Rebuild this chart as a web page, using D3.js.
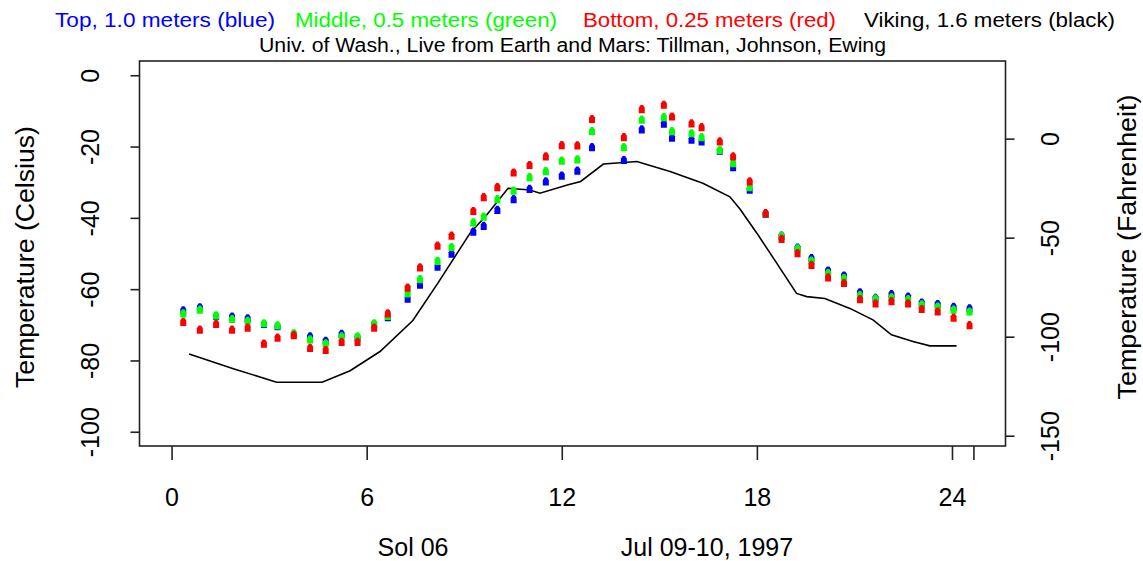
<!DOCTYPE html>
<html>
<head>
<meta charset="utf-8">
<script src="https://cdn.jsdelivr.net/npm/d3@7"></script>
<style>
  body { margin: 0; background: #fff; }
  svg text { font-family: "Liberation Sans", Arial, sans-serif; }
</style>
</head>
<body>
<figure id="solgraph" style="margin:0"></figure>
<script>
// Mars Pathfinder, Sol 06 temperatures
const hours = [0.36, 0.87, 1.37, 1.86, 2.34, 2.84, 3.26, 3.76, 4.26, 4.74,
  5.23, 5.72, 6.23, 6.65, 7.26, 7.64, 8.18, 8.61, 9.28, 9.60,
  10.02, 10.52, 11.01, 11.51, 12.00, 12.48, 12.93, 13.91, 14.46, 15.14,
  15.39, 15.99, 16.30, 16.86, 17.27, 17.78, 18.27, 18.76, 19.25, 19.68,
  20.19, 20.68, 21.17, 21.65, 22.14, 22.65, 23.07, 23.56, 24.05, 24.54];
const topTemps = [-66.0, -65.1, -67.6, -67.7, -68.2, -69.8, -70.4, -72.6, -73.3, -74.5,
  -72.6, -73.5, -69.8, -67.9, -62.7, -58.8, -53.7, -50.1, -43.9, -42.3,
  -37.8, -34.8, -31.9, -29.8, -28.2, -26.8, -20.2, -23.8, -15.2, -13.6,
  -17.5, -18.1, -18.6, -21.2, -25.8, -32.1, -38.9, -45.0, -48.4, -51.3,
  -54.8, -56.2, -60.9, -62.5, -61.4, -62.1, -63.8, -64.2, -65.0, -65.4];
const middleTemps = [-66.8, -65.8, -67.4, -68.4, -68.9, -69.6, -70.2, -72.4, -74.1, -75.2,
  -73.3, -73.3, -69.6, -67.5, -61.2, -57.2, -52.1, -48.2, -41.3, -39.7,
  -34.8, -32.4, -28.6, -26.9, -24.0, -23.6, -15.7, -20.2, -12.5, -11.8,
  -15.7, -16.3, -17.4, -21.0, -24.7, -31.4, -38.8, -45.1, -48.6, -52.0,
  -55.5, -56.9, -61.7, -62.7, -62.3, -62.8, -64.3, -64.9, -65.8, -66.3];
const bottomTemps = [-69.2, -71.4, -69.8, -71.4, -70.8, -75.3, -73.6, -72.9, -76.5, -77.1,
  -74.8, -74.8, -70.8, -66.8, -59.6, -53.9, -47.8, -45.0, -38.1, -34.2,
  -31.4, -27.3, -25.2, -22.8, -19.6, -19.7, -12.3, -17.4, -9.5, -8.3,
  -11.6, -13.5, -14.6, -18.6, -22.8, -29.8, -38.7, -45.9, -49.9, -53.2,
  -56.7, -58.3, -62.8, -64.0, -63.4, -64.0, -65.6, -66.3, -68.0, -70.1];

const vikingHours = [0.54, 1.90, 3.23, 4.63, 5.49, 6.41, 7.42, 8.19, 9.18, 9.69,
  10.35, 11.02, 11.33, 12.17, 12.58, 13.28, 14.31, 15.33, 16.34, 17.17,
  17.48, 18.00, 18.61, 19.22, 19.53, 20.09, 20.86, 21.57, 22.14, 22.80,
  23.32, 24.14];
const vikingTemps = [-78.2, -82.3, -86.1, -86.1, -82.9, -77.5, -68.8, -58.3, -44.3, -39.2,
  -31.7, -32.2, -33.1, -30.8, -29.8, -24.9, -24.2, -27.0, -30.3, -34.1,
  -37.5, -44.3, -52.7, -61.2, -62.1, -62.6, -65.4, -68.6, -72.8, -74.7,
  -75.9, -75.9];

const hourTicks = [0, 6, 12, 18, 24, 24.66];
const hourLabels = ["0", "6", "12", "18", "24", ""];
const celsiusTicks = [0, -20, -40, -60, -80, -100];
const fahrenheitTicks = [0, -50, -100, -150];

const legendItems = [
  { text: "Top, 1.0 meters (blue)", color: "#0000ff" },
  { text: "Middle, 0.5 meters (green)", color: "#00ff00" },
  { text: "Bottom, 0.25 meters (red)", color: "#ff0000" },
  { text: "Viking, 1.6 meters (black)", color: "#000000" }
];
const subtitle = "Univ. of Wash., Live from Earth and Mars:  Tillman, Johnson, Ewing";

class SolGraph {

  constructor() {
    this.width = 1143;
    this.height = 561;
    this.box = { left: 139.5, right: 1005.5, top: 61, bottom: 446 };
    this.markerPath = "M-3,4L3,4L3,-1.5L1.2,-4.2L-1.2,-4.2L-3,-1.5Z";
  }

  init() {
    this.svg = d3.select("figure#solgraph").append("svg")
      .attr("width", this.width)
      .attr("height", this.height)
      .attr("viewBox", `0 0 ${this.width} ${this.height}`);

    // R style axes: limits padded by 4%
    this.xScale = d3.scaleLinear()
      .domain([-0.986, 25.646])
      .range([this.box.left, this.box.right]);
    this.yScale = d3.scaleLinear()
      .domain([-104, 4])
      .range([this.box.bottom, this.box.top]);
    this.fScale = d3.scaleLinear()
      .domain([-104 * 1.8 + 32, 4 * 1.8 + 32])
      .range([this.box.bottom, this.box.top]);
  }

  draw() {
    this.drawHeader();
    this.drawViking();
    this.drawSensors();
    this.drawAxes();
  }

  drawHeader() {
    const lefts = [55, 295, 583, 864];
    const widths = [220, 262, 253, 251];
    this.svg.selectAll(".legend")
      .data(legendItems)
      .join("text")
      .attr("class", "legend")
      .attr("x", (d, i) => lefts[i])
      .attr("y", 27)
      .attr("font-size", 20)
      .attr("textLength", (d, i) => widths[i])
      .attr("lengthAdjust", "spacingAndGlyphs")
      .attr("fill", d => d.color)
      .text(d => d.text);

    this.svg.append("text")
      .attr("x", 259)
      .attr("y", 52)
      .attr("font-size", 20)
      .attr("textLength", 627)
      .attr("lengthAdjust", "spacingAndGlyphs")
      .text(subtitle);
  }

  drawViking() {
    const points = vikingHours.map((h, i) => [h, vikingTemps[i]]);
    this.svg.append("path")
      .datum(points)
      .attr("fill", "none")
      .attr("stroke", "#000")
      .attr("stroke-width", 1.6)
      .attr("d", d3.line()
        .x(d => this.xScale(d[0]))
        .y(d => this.yScale(d[1]))
      );
  }

  drawSensors() {
    const series = [
      { values: topTemps, color: "#0000ff" },
      { values: middleTemps, color: "#00ff00" },
      { values: bottomTemps, color: "#ff0000" }
    ];
    series.forEach(s => {
      this.svg.append("g")
        .selectAll("path")
        .data(s.values)
        .join("path")
        .attr("d", this.markerPath)
        .attr("fill", s.color)
        .attr("transform", (d, i) =>
          "translate(" + this.xScale(hours[i]) + "," + this.yScale(d) + ")");
    });
  }

  drawAxes() {
    const b = this.box;
    this.svg.append("rect")
      .attr("x", b.left)
      .attr("y", b.top)
      .attr("width", b.right - b.left)
      .attr("height", b.bottom - b.top)
      .attr("fill", "none")
      .attr("stroke", "#222")
      .attr("stroke-width", 1.6);

    const xAxis = this.svg.append("g")
      .attr("transform", "translate(0," + b.bottom + ")")
      .call(d3.axisBottom(this.xScale)
        .tickValues(hourTicks)
        .tickSize(14)
        .tickPadding(28)
        .tickFormat((d, i) => hourLabels[i]));
    this.styleAxis(xAxis);

    const yAxis = this.svg.append("g")
      .attr("transform", "translate(" + b.left + ",0)")
      .call(d3.axisLeft(this.yScale)
        .tickValues(celsiusTicks)
        .tickSize(9)
        .tickFormat(d => d));
    this.styleAxis(yAxis);
    yAxis.selectAll(".tick text")
      .attr("x", null).attr("dy", null)
      .attr("text-anchor", "middle")
      .attr("transform", "translate(-49,0) rotate(-90)")
      .attr("dy", "0.35em");

    const fAxis = this.svg.append("g")
      .attr("transform", "translate(" + b.right + ",0)")
      .call(d3.axisRight(this.fScale)
        .tickValues(fahrenheitTicks)
        .tickSize(9)
        .tickFormat(d => d));
    this.styleAxis(fAxis);
    fAxis.selectAll(".tick text")
      .attr("x", null).attr("dy", null)
      .attr("text-anchor", "middle")
      .attr("transform", "translate(45,0) rotate(-90)")
      .attr("dy", "0.35em");

    this.svg.append("text")
      .attr("transform", "translate(34,257) rotate(-90)")
      .attr("text-anchor", "middle")
      .attr("font-size", 25)
      .attr("textLength", 262)
      .attr("lengthAdjust", "spacingAndGlyphs")
      .text("Temperature (Celsius)");
    this.svg.append("text")
      .attr("transform", "translate(1136,247) rotate(-90)")
      .attr("text-anchor", "middle")
      .attr("font-size", 25)
      .attr("textLength", 305)
      .attr("lengthAdjust", "spacingAndGlyphs")
      .text("Temperature (Fahrenheit)");

    this.svg.append("text")
      .attr("x", 413).attr("y", 556)
      .attr("text-anchor", "middle")
      .attr("font-size", 25)
      .text("Sol 06");
    this.svg.append("text")
      .attr("x", 707).attr("y", 556)
      .attr("text-anchor", "middle")
      .attr("font-size", 25)
      .text("Jul 09-10, 1997");
  }

  styleAxis(axis) {
    axis.select(".domain").remove();
    axis.selectAll(".tick line")
      .attr("stroke", "#222")
      .attr("stroke-width", 1.6);
    axis.selectAll(".tick text")
      .attr("font-size", 25)
      .attr("fill", "#000");
  }
}

var solGraph = new SolGraph();
solGraph.init();
solGraph.draw();
</script>
</body>
</html>
